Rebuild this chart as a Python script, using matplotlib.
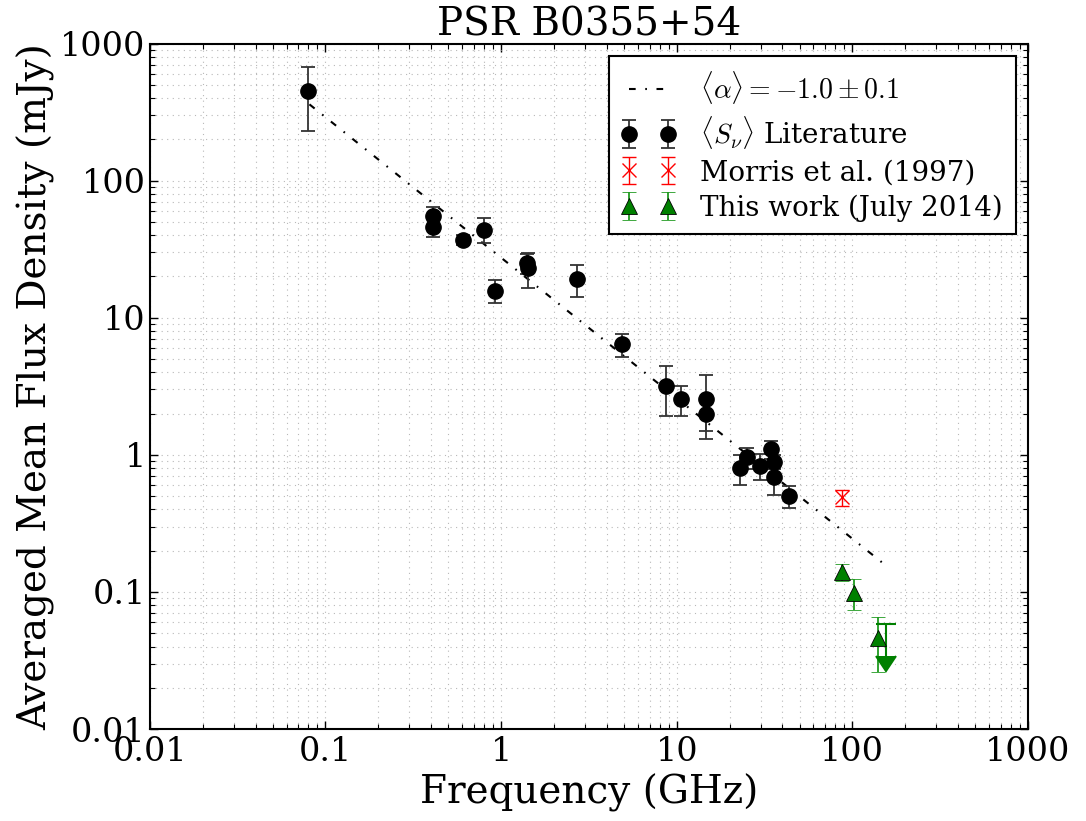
#-----------------------------------------------------------------#
# Espectro de flujo PSR B0355+54
#-----------------------------------------------------------------#
import matplotlib
matplotlib.use('Agg')
import matplotlib.pyplot as plt
from matplotlib.ticker import FuncFormatter, LogLocator

plt.rcParams['font.family'] = 'DejaVu Serif'
plt.rcParams['mathtext.fontset'] = 'cm'

#-----------------------------------------------------------------#
# Datos (GHz, mJy)

# literatura
freq_lit = [0.08, 0.408, 0.41, 0.61, 0.80, 0.925, 1.40, 1.42, 2.70, 4.85,
            8.7, 10.55, 14.6, 14.7, 23.0, 25.0, 29.9, 34.5, 35.6, 35.6, 43.5]
flux_lit = [450, 55, 46, 37, 44, 15.7, 25, 23, 19.1, 6.4,
            3.2, 2.55, 2.55, 2.0, 0.80, 0.96, 0.83, 1.10, 0.89, 0.69, 0.50]
err_lit = [220, 9, 7, 3, 9, 3, 4, 6.5, 5, 1.2,
           1.27, 0.64, 1.25, 0.5, 0.2, 0.17, 0.18, 0.17, 0.1, 0.18, 0.09]

# Morris et al. (1997)
freq_morris = [87]
flux_morris = [0.49]
err_morris = [0.065]

# este trabajo
freq_tw = [87, 102, 140]
flux_tw = [0.14, 0.099, 0.046]
err_tw = [0.02, 0.025, 0.02]

# limite superior
freq_ul = [156]
flux_ul = [0.058]
err_ul = [0.024]

# ajuste <alpha> = -1.0 (extremos de la recta)
fit_freq = [0.081, 156]
fit_flux = [360, 0.155]

#-----------------------------------------------------------------#
fig = plt.figure(figsize=(10.86, 8.21), dpi=100)
ax = fig.add_axes([0.138, 0.112, 0.8086, 0.835])

ax.plot(fit_freq, fit_flux, color='black', lw=1.5,
        linestyle=(0, (3.2, 4.6, 0.8, 4.6)),
        label=r'$\langle\alpha\rangle = -1.0 \pm 0.1$')

ax.errorbar(freq_lit, flux_lit, yerr=err_lit, fmt='o', color='black',
            ecolor='#333333', markersize=11, elinewidth=1.3, capsize=5,
            capthick=1.3, label=r'$\langle S_{\nu}\rangle$ Literature', zorder=3)

ax.errorbar(freq_morris, flux_morris, yerr=err_morris, fmt='x', color='red',
            ecolor='red', markersize=10, mew=1.0, elinewidth=1.0, capsize=5,
            capthick=1.0, label='Morris et al. (1997)', zorder=3)

ax.errorbar(freq_tw, flux_tw, yerr=err_tw, fmt='^', color='green',
            mec='black', mew=0.6, markersize=12, ecolor='#1f9a1f',
            elinewidth=1.3, capsize=5, capthick=1.3,
            label='This work (July 2014)', zorder=3)

ax.errorbar(freq_ul, flux_ul, yerr=err_ul, uplims=True, fmt='none',
            color='green', ecolor='green', elinewidth=1.5, capsize=7,
            capthick=1.5, zorder=3)

ax.set_xscale('log')
ax.set_yscale('log')
ax.set_xlim(0.01, 1000)
ax.set_ylim(0.01, 1000)

fmt = FuncFormatter(lambda v, p: '%g' % v)
ax.xaxis.set_major_formatter(fmt)
ax.yaxis.set_major_formatter(fmt)
ax.xaxis.set_minor_locator(LogLocator(base=10, subs=range(2, 10), numticks=20))
ax.yaxis.set_minor_locator(LogLocator(base=10, subs=range(2, 10), numticks=20))

ax.tick_params(which='both', direction='in', top=True, right=True, labelsize=24)
ax.tick_params(which='major', length=6, width=1)
ax.tick_params(axis='y', which='major', pad=3)
ax.tick_params(axis='x', which='major', pad=5)
ax.tick_params(which='minor', length=3.5, width=0.8)
ax.grid(True, which='both', linestyle=(0, (1, 4)), color='#b8b8b8', lw=0.8)
for s in ax.spines.values():
    s.set_linewidth(1.5)

ax.set_xlabel('Frequency (GHz)', fontsize=28)
ax.set_ylabel('Averaged Mean Flux Density (mJy)', fontsize=28)
ax.set_title('PSR B0355+54', fontsize=28, pad=6)

leg = ax.legend(loc='upper right', numpoints=2, fontsize=20, handlelength=2.0,
                handletextpad=0.85, labelspacing=0.3, borderpad=0.45,
                fancybox=False, framealpha=1, borderaxespad=0.45)
leg.get_frame().set_edgecolor('black')
leg.get_frame().set_linewidth(1.5)

fig.savefig('out.png', dpi=100, facecolor='white')
